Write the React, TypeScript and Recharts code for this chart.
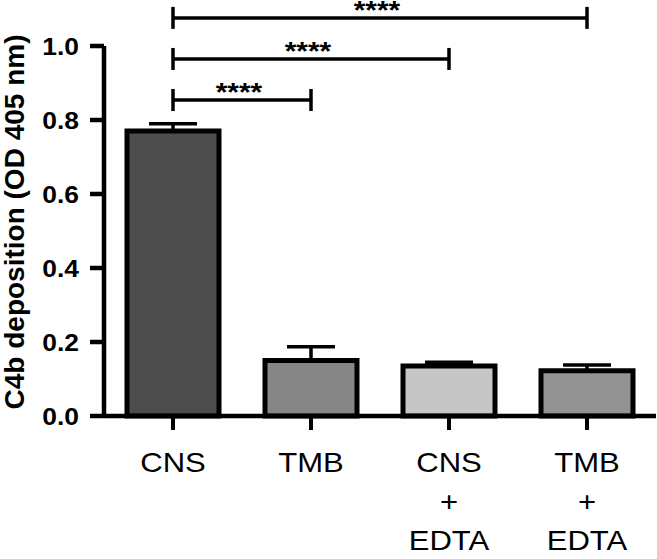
import React from 'react';
import { BarChart, Bar, XAxis, YAxis, ErrorBar, Cell, ReferenceLine } from 'recharts';

// groups on the x axis, bar heights (OD 405 nm) and upward SEM
const categories = ['CNS', 'TMB', 'CNS + EDTA', 'TMB + EDTA'];
const categoryLines = [['CNS'], ['TMB'], ['CNS', '+', 'EDTA'], ['TMB', '+', 'EDTA']];
const means = [0.77, 0.15, 0.135, 0.122];
const sems = [0.02, 0.037, 0.01, 0.016];
const yTicks = [0, 0.2, 0.4, 0.6, 0.8, 1.0];

// significance brackets
const bracketFrom = ['CNS', 'CNS', 'CNS'];
const bracketTo = ['TMB', 'CNS + EDTA', 'TMB + EDTA'];
const bracketLevel = [0.854, 0.965, 1.076];
const bracketLabel = ['****', '****', '****'];

const barColors = ['#4d4d4d', '#868686', '#c6c6c6', '#939393'];
const FONT = '"Liberation Sans", Arial, Helvetica, sans-serif';

const data = categories.map((name, i) => ({
    name,
    value: means[i],
    err: [0, sems[i]],
}));

const YTick = ({ x, y, payload }: any) => (
    <text
        transform={`translate(${x},${y}) scale(1.1,1)`}
        textAnchor="end"
        dy="0.355em"
        fontFamily={FONT}
        fontWeight="bold"
        fontSize={24}
        fill="#000"
    >
        {Number(payload.value).toFixed(1)}
    </text>
);

const XTick = ({ x, y, index }: any) => (
    <g>
        {categoryLines[index].map((line, i) => (
            <text
                key={i}
                transform={`translate(${x},${y + 40 + i * 39}) scale(1.15,1)`}
                textAnchor="middle"
                fontFamily={FONT}
                fontSize={27}
                fill="#000"
            >
                {line}
            </text>
        ))}
    </g>
);

const Bracket = ({ x1, y1, x2, label }: any) => (
    <g>
        <line x1={x1} y1={y1} x2={x2} y2={y1} stroke="#000" strokeWidth={3.5} />
        <line x1={x1} y1={y1 - 11} x2={x1} y2={y1 + 11} stroke="#000" strokeWidth={3.5} />
        <line x1={x2} y1={y1 - 11} x2={x2} y2={y1 + 11} stroke="#000" strokeWidth={3.5} />
        <text
            transform={`translate(${(x1 + x2) / 2 - 3},${y1 + 1}) scale(1.15,1)`}
            textAnchor="middle"
            fontFamily={FONT}
            fontWeight="bold"
            fontSize={26}
            fill="#000"
        >
            {label}
        </text>
    </g>
);

const AxisTitle = ({ viewBox }: any) => (
    <text
        transform={`translate(24,${viewBox.y + viewBox.height / 2 - 9}) rotate(-90)`}
        textAnchor="middle"
        fontFamily={FONT}
        fontWeight="bold"
        fontSize={28}
        fill="#000"
    >
        C4b deposition (OD 405 nm)
    </text>
);

export default function App() {
    return (
        <div style={{ position: 'absolute', left: 0, top: 0, background: '#fff' }}>
            <BarChart
                width={657}
                height={559}
                data={data}
                margin={{ top: 46, right: 1, bottom: 0, left: 0 }}
            >
                <XAxis
                    dataKey="name"
                    height={143}
                    interval={0}
                    axisLine={{ stroke: '#000', strokeWidth: 4.5 }}
                    tickLine={{ stroke: '#000', strokeWidth: 4 }}
                    tickSize={14}
                    tick={<XTick />}
                />
                <YAxis
                    width={104}
                    domain={[0, 1]}
                    ticks={yTicks}
                    interval={0}
                    axisLine={{ stroke: '#000', strokeWidth: 4.5 }}
                    tickLine={{ stroke: '#000', strokeWidth: 4.5 }}
                    tickSize={14}
                    tickMargin={11}
                    tick={<YTick />}
                    label={{ content: (p: any) => <AxisTitle {...p} /> }}
                />
                <Bar
                    dataKey="value"
                    barSize={92}
                    stroke="#000"
                    strokeWidth={5}
                    isAnimationActive={false}
                >
                    {data.map((d, i) => (
                        <Cell key={d.name} fill={barColors[i]} />
                    ))}
                    <ErrorBar
                        dataKey="err"
                        direction="y"
                        width={24}
                        stroke="#000"
                        strokeWidth={3.5}
                        isAnimationActive={false}
                    />
                </Bar>
                {bracketLevel.map((level, i) => (
                    <ReferenceLine
                        key={i}
                        segment={[
                            { x: bracketFrom[i], y: level },
                            { x: bracketTo[i], y: level },
                        ]}
                        ifOverflow="visible"
                        shape={(p: any) => <Bracket {...p} label={bracketLabel[i]} />}
                    />
                ))}
            </BarChart>
        </div>
    );
}
